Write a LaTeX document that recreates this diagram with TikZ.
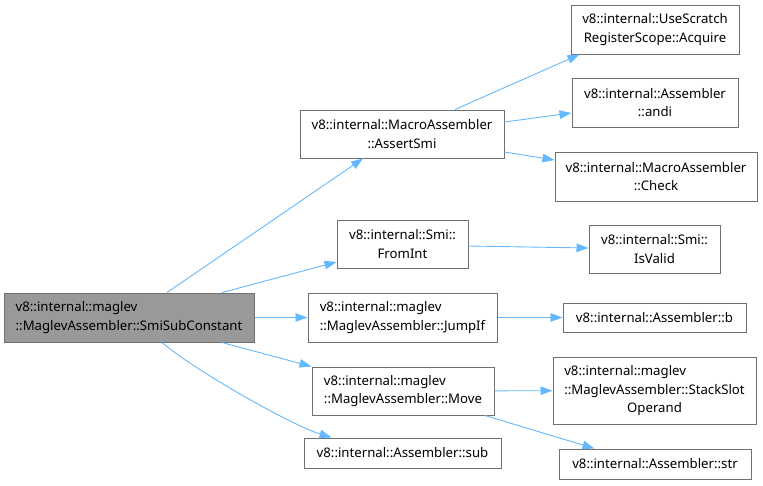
\documentclass[tikz,border=0pt]{standalone}
\usepackage{fontspec}
\setmainfont{Noto Sans}
\usetikzlibrary{arrows.meta,calc}
\definecolor{edgeblue}{HTML}{63B8FF}
\definecolor{boxgray}{HTML}{707070}
\definecolor{rootfill}{HTML}{999999}
\tikzset{
  fn/.style={draw=boxgray, line width=1pt, fill=white, inner sep=0pt, align=center,
    font=\fontsize{13.2}{18.5}\selectfont},
  rootfn/.style={fn, fill=rootfill, draw=boxgray},
  call/.style={draw=edgeblue, line width=0.9pt, -{Triangle[length=12pt,width=8.5pt]}}
}
\begin{document}
\begin{tikzpicture}[x=1pt, y=-1pt]
\useasboundingbox (0,0) rectangle (763,485);
\node[rootfn, align=left, minimum width=250pt, minimum height=49pt] (root) at (129,317.5) {v8::internal::maglev\\::MaglevAssembler::SmiSubConstant};
\node[fn, minimum width=204pt, minimum height=48pt] (assert) at (402,134) {v8::internal::MacroAssembler\\::AssertSmi};
\node[fn, minimum width=168pt, minimum height=49pt] (acquire) at (655,29.5) {v8::internal::UseScratch\\RegisterScope::Acquire};
\node[fn, minimum width=166pt, minimum height=49pt] (andi) at (655,102.5) {v8::internal::Assembler\\::andi};
\node[fn, minimum width=202pt, minimum height=49pt] (check) at (656,176.5) {v8::internal::MacroAssembler\\::Check};
\node[fn, minimum width=131pt, minimum height=48pt] (fromint) at (402.5,244) {v8::internal::Smi::\\FromInt};
\node[fn, minimum width=131pt, minimum height=48pt] (isvalid) at (654.5,249) {v8::internal::Smi::\\IsValid};
\node[fn, align=left, minimum width=189pt, minimum height=49pt] (jumpif) at (402.5,317.5) {v8::internal::maglev\\::MaglevAssembler::JumpIf};
\node[fn, minimum width=183pt, minimum height=29pt] (b) at (654.5,317.5) {v8::internal::Assembler::b};
\node[fn, align=left, minimum width=182pt, minimum height=48pt] (move) at (403,391) {v8::internal::maglev\\::MaglevAssembler::Move};
\node[fn, minimum width=203pt, minimum height=67pt] (stackslot) at (654.5,390.5) {\begin{tabular}{@{}l@{}}v8::internal::maglev\\::MaglevAssembler::StackSlot\\\multicolumn{1}{@{}c@{}}{Operand}\end{tabular}};
\node[fn, minimum width=197pt, minimum height=30pt] (sub) at (402.5,453) {v8::internal::Assembler::sub};
\node[fn, minimum width=192pt, minimum height=30pt] (str) at (655,464) {v8::internal::Assembler::str};
% calls from SmiSubConstant
\draw[call] ($(root.north)+(38,0)$) -- ($(assert.south)+(-39,0)$);
\draw[call] ($(root.north)+(93,0)$) -- ($(fromint.west)+(0,18)$);
\draw[call] (root.east) -- (jumpif.west);
\draw[call] ($(root.south)+(93,0)$) -- (move.north west);
\draw[call] ($(root.south)+(33,0)$) .. controls +(30,26) and +(-42,-13) .. ($(sub.north west)+(28,0)$);
% calls from AssertSmi
\draw[call] ($(assert.north)+(53,0)$) -- ($(acquire.south west)+(9,0)$);
\draw[call] ($(assert.east)+(0,-12)$) -- ($(andi.west)+(0,10.5)$);
\draw[call] ($(assert.east)+(0,18)$) -- ($(check.west)+(0,-16.5)$);
% further calls
\draw[call] ($(fromint.east)+(0,2)$) -- ($(isvalid.west)+(0,-1)$);
\draw[call] (jumpif) -- (b);
\draw[call] (move) -- (stackslot);
\draw[call] ($(move.south)+(82,0)$) -- ($(str.north west)+(36,0)$);
\end{tikzpicture}
\end{document}
